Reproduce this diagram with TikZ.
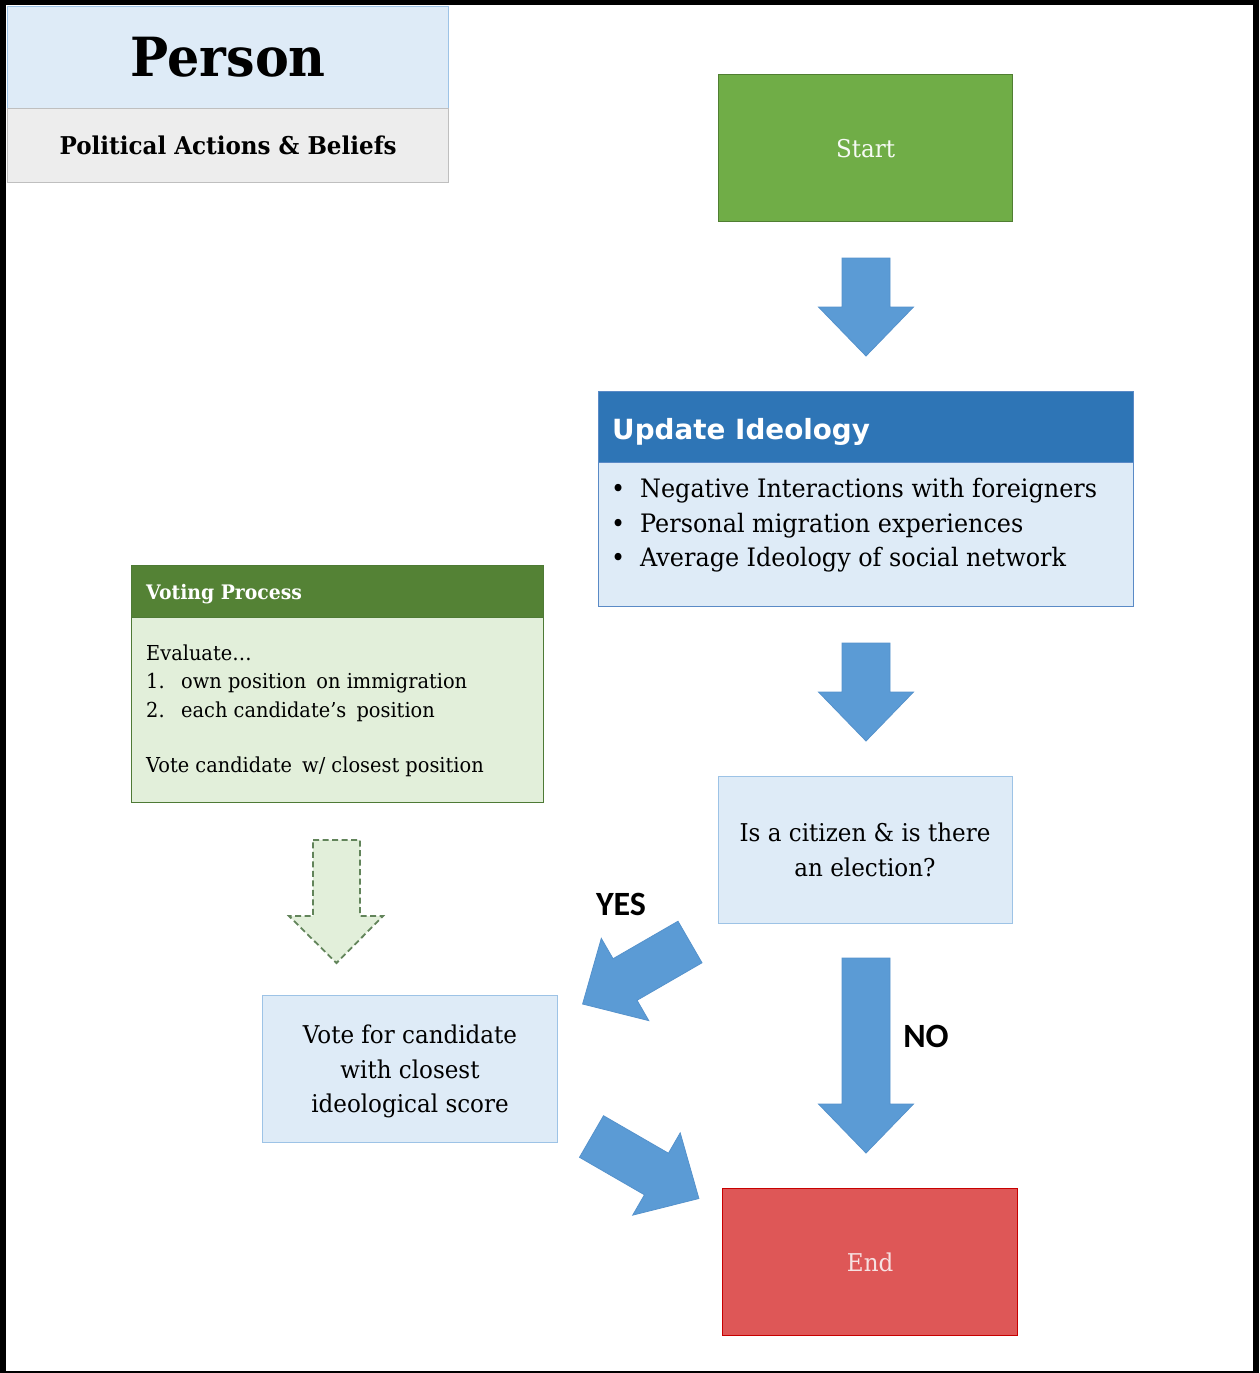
\documentclass[tikz,border=0pt]{standalone}
\usepackage{fontspec}
\setmainfont{DejaVu Serif}[FakeStretch=0.94]
\newfontfamily\headsans{DejaVu Sans}
\newfontfamily\labelsans{Carlito}

\definecolor{personfill}{HTML}{DEEBF7}
\definecolor{personedge}{HTML}{9DC3E6}
\definecolor{greyfill}{HTML}{EDEDED}
\definecolor{greyedge}{HTML}{BFBFBF}
\definecolor{startfill}{HTML}{70AD47}
\definecolor{startedge}{HTML}{507E32}
\definecolor{updhead}{HTML}{2E75B6}
\definecolor{updbody}{HTML}{DEEBF7}
\definecolor{updedge}{HTML}{5A8AC6}
\definecolor{vothead}{HTML}{548235}
\definecolor{votbody}{HTML}{E2EFDA}
\definecolor{votedge}{HTML}{4E7A35}
\definecolor{endfill}{HTML}{DE5757}
\definecolor{endedge}{HTML}{C80000}
\definecolor{endtext}{HTML}{F6E2E2}
\definecolor{arrowfill}{HTML}{5B9BD5}
\definecolor{arrowedge}{HTML}{5592CC}
\definecolor{dashfill}{HTML}{E2EFDA}
\definecolor{dashedge}{HTML}{62845A}

\tikzset{
  pics/blockarrow/.style={code={
    \path[pic actions] (0,-24) -- (#1,-24) -- (#1,-47.5) -- ({#1+49},0)
      -- (#1,47.5) -- (#1,24) -- (0,24) -- cycle;}}
}

\begin{document}
\begin{tikzpicture}[x=1pt,y=-1pt,
  box/.style={anchor=north west, inner sep=0pt, line width=1.3pt, align=center},
  ctxt/.style={anchor=base, inner sep=0pt},
  ltxt/.style={anchor=base west, inner sep=0pt},
  bigarrow/.style={fill=arrowfill, draw=arrowedge, line width=0.8pt, line join=miter},
  dasharrow/.style={fill=dashfill, draw=dashedge, line width=1.8pt, dash pattern=on 6pt off 3.5pt, line join=miter},
  serifbig/.style={font=\fontsize{24.5}{35}\selectfont},
  listfont/.style={font=\fontsize{25.4}{35}\selectfont},
  smallfont/.style={font=\fontsize{20.6}{24}\selectfont},
  yesno/.style={font=\labelsans\bfseries\fontsize{34}{36}\selectfont, inner sep=0pt}
]
% outer frame
\fill[black] (0,0) rectangle (1259,1373);
\fill[white] (5.5,4.5) rectangle (1253,1371);

% class header
\node[box, draw=personedge, fill=personfill, minimum width=441pt, minimum height=102pt,
      font=\bfseries\fontsize{54}{60}\selectfont] (person) at (7,6) {Person};
\node[box, draw=greyedge, fill=greyfill, minimum width=441pt, minimum height=74pt,
      font=\bfseries\fontsize{24.5}{28}\selectfont] (beliefs) at (7,108) {Political Actions \& Beliefs};

% start
\node[box, draw=startedge, fill=startfill, minimum width=294pt, minimum height=147pt,
      text=white!94!startfill, serifbig] (start) at (718,74) {Start};

% update ideology
\node[box, draw=updedge, fill=updbody, minimum width=535pt, minimum height=215pt] (upd) at (598,391) {};
\node[box, draw=updedge, fill=updhead, minimum width=535pt, minimum height=71pt] (updhead) at (598,391) {};
\node[ltxt, text=white, font=\headsans\bfseries\fontsize{27.8}{30}\selectfont] (updtitle) at (612,439) {Update Ideology};
\node[ltxt, listfont] (b1) at (611,497) {\textbullet};
\node[ltxt, listfont] (l1) at (640,497) {Negative Interactions with foreigners};
\node[ltxt, listfont] (b2) at (611,532) {\textbullet};
\node[ltxt, listfont] (l2) at (640,532) {Personal migration experiences};
\node[ltxt, listfont] (b3) at (611,566) {\textbullet};
\node[ltxt, listfont] (l3) at (640,566) {Average Ideology of social network};

% voting process
\node[box, draw=votedge, fill=votbody, minimum width=412pt, minimum height=237pt] (vote) at (131,565) {};
\node[box, draw=votedge, fill=vothead, minimum width=412pt, minimum height=52pt] (votehead) at (131,565) {};
\node[ltxt, text=white, font=\bfseries\fontsize{20}{22}\selectfont] (votetitle) at (146,599) {Voting Process};
\node[ltxt, smallfont] (v0) at (146,660) {Evaluate…};
\node[ltxt, smallfont] (n1) at (146,688) {1.};
\node[ltxt, smallfont] (v1) at (181,688) {own position\hspace{4pt} on immigration};
\node[ltxt, smallfont] (n2) at (146,717) {2.};
\node[ltxt, smallfont] (v2) at (181,717) {each candidate’s\hspace{4pt} position};
\node[ltxt, smallfont] (v3) at (146,772) {Vote candidate\hspace{4pt} w/ closest position};

% decision
\node[box, draw=personedge, fill=personfill, minimum width=294pt, minimum height=147pt] (decide) at (718,776) {};
\node[ctxt, serifbig] (d1) at (865,841) {Is a citizen \& is there};
\node[ctxt, serifbig] (d2) at (865,876) {an election?};

% vote for candidate
\node[box, draw=personedge, fill=personfill, minimum width=295pt, minimum height=147pt] (cast) at (262,995) {};
\node[ctxt, serifbig] (c1) at (410,1043) {Vote for candidate};
\node[ctxt, serifbig] (c2) at (410,1078) {with closest};
\node[ctxt, serifbig] (c3) at (410,1112) {ideological score};

% end
\node[box, draw=endedge, fill=endfill, minimum width=295pt, minimum height=147pt,
      text=endtext, serifbig] (finish) at (722,1188) {End};

% block arrows
\pic[bigarrow, rotate=-90] at (866,258) {blockarrow=49};
\pic[bigarrow, rotate=-90] at (866,643) {blockarrow=49};
\pic[bigarrow, rotate=-90] at (866,958) {blockarrow=146};
\pic[bigarrow, rotate=210] at (690,942) {blockarrow=75};
\pic[bigarrow, rotate=-30] at (591.5,1136.5) {blockarrow=75};
\draw[dasharrow] (313,840) -- (360,840) -- (360,916) -- (383,916) -- (336.5,963)
  -- (289,916) -- (313,916) -- cycle;

% branch labels
\node[yesno] (yes) at (621,904) {YES};
\node[yesno] (no) at (926,1036) {NO};
\end{tikzpicture}
\end{document}
